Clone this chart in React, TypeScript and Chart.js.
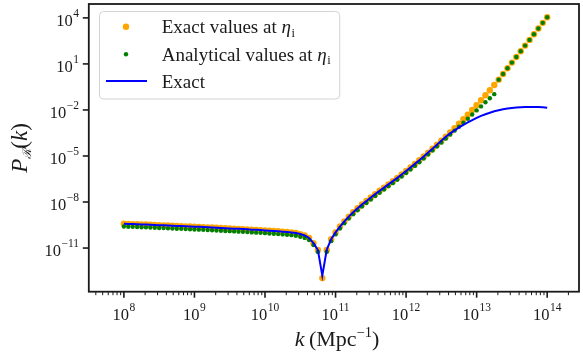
import React, { useEffect, useRef } from 'react';
import { Chart, registerables } from 'chart.js';
Chart.register(...registerables);

// log10(k / Mpc^-1) sample positions
const logK = [
  8, 8.0625, 8.125, 8.1875, 8.25, 8.3125, 8.375, 8.4375, 8.5, 8.5625, 8.625, 8.6875, 8.75, 8.8125, 8.875, 8.9375,
  9, 9.0625, 9.125, 9.1875, 9.25, 9.3125, 9.375, 9.4375, 9.5, 9.5625, 9.625, 9.6875, 9.75, 9.8125, 9.875, 9.9375,
  10, 10.0625, 10.125, 10.1875, 10.25, 10.3125, 10.375, 10.4375, 10.5, 10.5625, 10.625, 10.6875, 10.75, 10.8125, 10.875, 10.9375,
  11, 11.0625, 11.125, 11.1875, 11.25, 11.3125, 11.375, 11.4375, 11.5, 11.5625, 11.625, 11.6875, 11.75, 11.8125, 11.875, 11.9375,
  12, 12.0625, 12.125, 12.1875, 12.25, 12.3125, 12.375, 12.4375, 12.5, 12.5625, 12.625, 12.6875, 12.75, 12.8125, 12.875, 12.9375,
  13, 13.0625, 13.125, 13.1875, 13.25, 13.3125, 13.375, 13.4375, 13.5, 13.5625, 13.625, 13.6875, 13.75, 13.8125, 13.875, 13.9375,
  14,
];

// log10 P_R(k): exact values at eta_i (orange)
const exactAtEta = [
  -9.42, -9.43, -9.44, -9.45, -9.46, -9.47, -9.48, -9.495, -9.51, -9.52, -9.535, -9.55, -9.56, -9.57, -9.585, -9.6,
  -9.61, -9.62, -9.635, -9.65, -9.66, -9.675, -9.69, -9.705, -9.72, -9.735, -9.75, -9.765, -9.78, -9.8, -9.815, -9.83,
  -9.85, -9.87, -9.89, -9.91, -9.93, -9.955, -9.98, -10.02, -10.09, -10.18, -10.34, -10.68, -11.13, -12.96, -11.12, -10.42,
  -9.98, -9.6, -9.26, -8.95, -8.67, -8.41, -8.165, -7.93, -7.705, -7.485, -7.27, -7.06, -6.85, -6.64, -6.425, -6.205,
  -5.98, -5.75, -5.515, -5.275, -5.03, -4.78, -4.525, -4.265, -4.0, -3.74, -3.47, -3.19, -2.9, -2.605, -2.305, -2.0,
  -1.69, -1.37, -1.045, -0.715, -0.375, -0.025, 0.345, 0.715, 1.085, 1.455, 1.825, 2.195, 2.565, 2.935, 3.305, 3.675,
  4.045,
];

// log10 P_R(k): analytical values at eta_i (green); null = below the axis
const analyticalAtEta = [
  -9.6, -9.61, -9.62, -9.63, -9.64, -9.65, -9.66, -9.675, -9.69, -9.7, -9.715, -9.73, -9.74, -9.75, -9.765, -9.78,
  -9.79, -9.8, -9.815, -9.83, -9.84, -9.855, -9.87, -9.885, -9.9, -9.915, -9.93, -9.945, -9.96, -9.98, -9.995, -10.01,
  -10.03, -10.05, -10.07, -10.09, -10.11, -10.135, -10.16, -10.2, -10.26, -10.34, -10.48, -10.8, -11.25, null, -11.25, -10.55,
  -10.11, -9.73, -9.39, -9.08, -8.8, -8.54, -8.295, -8.06, -7.835, -7.615, -7.4, -7.19, -6.98, -6.77, -6.555, -6.335,
  -6.11, -5.88, -5.645, -5.405, -5.16, -4.91, -4.65, -4.39, -4.13, -3.87, -3.61, -3.35, -3.09, -2.83, -2.57, -2.3,
  -2.03, -1.77, -1.5, -1.24, -0.97, -0.025, 0.345, 0.715, 1.085, 1.455, 1.825, 2.195, 2.565, 2.935, 3.305, 3.675,
  4.045,
];

// log10 P_R(k): exact curve (blue line)
const exactCurve = [
  -9.42, -9.43, -9.44, -9.45, -9.46, -9.47, -9.48, -9.495, -9.51, -9.52, -9.535, -9.55, -9.56, -9.57, -9.585, -9.6,
  -9.61, -9.62, -9.635, -9.65, -9.66, -9.675, -9.69, -9.705, -9.72, -9.735, -9.75, -9.765, -9.78, -9.8, -9.815, -9.83,
  -9.85, -9.87, -9.89, -9.91, -9.93, -9.955, -9.98, -10.02, -10.09, -10.18, -10.34, -10.68, -11.13, -12.8, -11.12, -10.42,
  -9.98, -9.6, -9.26, -8.95, -8.67, -8.41, -8.165, -7.93, -7.705, -7.485, -7.27, -7.06, -6.85, -6.64, -6.425, -6.205,
  -5.98, -5.75, -5.515, -5.275, -5.03, -4.78, -4.525, -4.265, -4.0, -3.75, -3.53, -3.33, -3.14, -2.97, -2.81, -2.66,
  -2.52, -2.39, -2.28, -2.18, -2.09, -2.02, -1.96, -1.91, -1.87, -1.84, -1.82, -1.81, -1.8, -1.8, -1.81, -1.83,
  -1.86,
];

const xTickExps = [8, 9, 10, 11, 12, 13, 14];
const yTickExps = [4, 1, -2, -5, -8, -11];
const legendLabels = ['Exact values at ', 'Analytical values at ', 'Exact'];

const X_MIN_EXP = 7.5025;
const X_MAX_EXP = 14.451;
const Y_MIN_EXP = -13.845;
const Y_MAX_EXP = 4.905;

const SERIF = '"Liberation Serif", "DejaVu Serif", serif';
const INK = '#1a1a1a';

const fmtExp = (n: number) => (n < 0 ? '\u2212' + Math.abs(n) : String(n));

function drawPow(ctx: CanvasRenderingContext2D, exp: string, x: number, y: number, align: 'center' | 'right') {
  const baseFont = `16.5px ${SERIF}`;
  const expFont = `11.5px ${SERIF}`;
  ctx.font = baseFont;
  const wb = ctx.measureText('10').width;
  ctx.font = expFont;
  const we = ctx.measureText(exp).width;
  const total = wb + we + 0.5;
  const x0 = align === 'center' ? x - total / 2 : x - total;
  ctx.textAlign = 'left';
  ctx.textBaseline = 'alphabetic';
  ctx.font = baseFont;
  ctx.fillText('10', x0, y);
  ctx.font = expFont;
  ctx.fillText(exp, x0 + wb + 0.5, y - 9);
}

const decor = {
  id: 'decor',
  afterDraw(chart: any) {
    const { ctx, chartArea } = chart;
    const { left, right, top, bottom } = chartArea;
    const xs = chart.scales.x;
    const ys = chart.scales.y;
    ctx.save();
    ctx.fillStyle = INK;
    ctx.strokeStyle = INK;

    // x ticks (major + minor)
    for (let n = 7; n <= 14; n++) {
      for (let m = 1; m <= 9; m++) {
        const v = m * Math.pow(10, n);
        const lv = Math.log10(v);
        if (lv < X_MIN_EXP || lv > X_MAX_EXP) continue;
        const px = xs.getPixelForValue(v);
        const major = m === 1;
        ctx.lineWidth = major ? 1.6 : 1;
        ctx.beginPath();
        ctx.moveTo(px, bottom);
        ctx.lineTo(px, bottom + (major ? 6 : 3.5));
        ctx.stroke();
      }
    }
    xTickExps.forEach((e) => {
      const px = xs.getPixelForValue(Math.pow(10, e));
      drawPow(ctx, fmtExp(e), px, 320, 'center');
    });

    // y ticks
    yTickExps.forEach((e) => {
      const py = ys.getPixelForValue(Math.pow(10, e));
      ctx.lineWidth = 1.6;
      ctx.beginPath();
      ctx.moveTo(left, py);
      ctx.lineTo(left - 6, py);
      ctx.stroke();
      drawPow(ctx, fmtExp(e), 79, py + 8, 'right');
    });

    // spines
    ctx.lineWidth = 1.8;
    ctx.strokeRect(left, top, right - left, bottom - top);

    // x title: k (Mpc^-1)
    {
      const big = `22px ${SERIF}`;
      const bigIt = `italic 22px ${SERIF}`;
      const sup = `14.5px ${SERIF}`;
      const parts: [string, string, number][] = [
        ['k', bigIt, 0],
        ['\u2009(Mpc', big, 0],
        ['\u22121', sup, 9],
        [')', big, 0],
      ];
      let w = 0;
      parts.forEach(([t, f]) => { ctx.font = f; w += ctx.measureText(t).width; });
      let cx = 337 - w / 2;
      ctx.textAlign = 'left';
      ctx.textBaseline = 'alphabetic';
      parts.forEach(([t, f, r]) => {
        ctx.font = f;
        ctx.fillText(t, cx, 346 - r);
        cx += ctx.measureText(t).width;
      });
    }

    // y title: P_R(k), rotated
    {
      ctx.save();
      ctx.translate(20, 148);
      ctx.rotate(-Math.PI / 2);
      const parts: [string, string, number][] = [
        ['P', `italic 23px ${SERIF}`, 0],
        ['\u211B', `italic 12px ${SERIF}`, -4],
        ['(', `23px ${SERIF}`, 0],
        ['k', `italic 23px ${SERIF}`, 0],
        [')', `23px ${SERIF}`, 0],
      ];
      let w = 0;
      parts.forEach(([t, f]) => { ctx.font = f; w += ctx.measureText(t).width; });
      let cx = -w / 2;
      ctx.textAlign = 'left';
      ctx.textBaseline = 'alphabetic';
      parts.forEach(([t, f, r]) => {
        ctx.font = f;
        ctx.fillText(t, cx, 7 - r);
        cx += ctx.measureText(t).width;
      });
      ctx.restore();
    }

    // legend
    {
      const tx = 161.7;
      const tf = `19px ${SERIF}`;
      const tfIt = `italic 19px ${SERIF}`;
      const sf = `12.5px ${SERIF}`;
      let maxEnd = 0;
      legendLabels.forEach((lab, i) => {
        ctx.font = tf;
        let w = ctx.measureText(lab).width;
        if (i < 2) {
          ctx.font = tfIt; w += ctx.measureText('\u03B7').width;
          ctx.font = sf; w += ctx.measureText('i').width + 0.5;
        }
        maxEnd = Math.max(maxEnd, tx + w);
      });
      const lx = 99.5, ly = 11.5, lw = maxEnd + 9 - lx, lh = 87.5;
      ctx.beginPath();
      ctx.roundRect(lx, ly, lw, lh, 4);
      ctx.fillStyle = 'rgba(255,255,255,0.8)';
      ctx.fill();
      ctx.strokeStyle = '#d3d3d3';
      ctx.lineWidth = 1;
      ctx.stroke();

      // markers
      ctx.fillStyle = '#ffa500';
      ctx.beginPath(); ctx.arc(126, 26.7, 3.2, 0, Math.PI * 2); ctx.fill();
      ctx.fillStyle = '#008000';
      ctx.beginPath(); ctx.arc(126, 54.3, 2.2, 0, Math.PI * 2); ctx.fill();
      ctx.strokeStyle = '#0000ff';
      ctx.lineWidth = 2;
      ctx.beginPath(); ctx.moveTo(106, 81); ctx.lineTo(147, 81); ctx.stroke();

      const baselines = [33.3, 60.5, 88];
      ctx.fillStyle = INK;
      ctx.textAlign = 'left';
      ctx.textBaseline = 'alphabetic';
      legendLabels.forEach((lab, i) => {
        ctx.font = tf;
        ctx.fillText(lab, tx, baselines[i]);
        if (i < 2) {
          const w = ctx.measureText(lab).width;
          ctx.font = tfIt;
          ctx.fillText('\u03B7', tx + w, baselines[i]);
          const we = ctx.measureText('\u03B7').width;
          ctx.font = sf;
          ctx.fillText('i', tx + w + we + 0.5, baselines[i] + 3.5);
        }
      });
    }
    ctx.restore();
  },
};

export default function App() {
  const ref = useRef<HTMLCanvasElement | null>(null);
  useEffect(() => {
    const canvas = ref.current;
    if (!canvas) return;
    const toPts = (arr: (number | null)[]) =>
      logK.map((k, i) => ({ x: Math.pow(10, k), y: arr[i] == null ? null : Math.pow(10, arr[i] as number) }));
    const chart = new Chart(canvas, {
      type: 'scatter',
      data: {
        datasets: [
          {
            type: 'line',
            label: 'Exact',
            data: toPts(exactCurve) as any,
            borderColor: '#0000ff',
            backgroundColor: '#0000ff',
            borderWidth: 2,
            pointRadius: 0,
            showLine: true,
            fill: false,
            tension: 0,
            order: 0,
          } as any,
          {
            type: 'scatter',
            label: 'Analytical values at ηi',
            data: toPts(analyticalAtEta) as any,
            backgroundColor: '#008000',
            borderWidth: 0,
            pointRadius: 2.2,
            order: 1,
          },
          {
            type: 'scatter',
            label: 'Exact values at ηi',
            data: toPts(exactAtEta) as any,
            backgroundColor: '#ffa500',
            borderWidth: 0,
            pointRadius: 3.2,
            order: 2,
          },
        ],
      },
      options: {
        responsive: false,
        animation: false,
        devicePixelRatio: 1,
        layout: { padding: { left: 88.8, top: 1.3, right: 1.5, bottom: 68.3 } },
        scales: {
          x: { type: 'logarithmic', min: Math.pow(10, X_MIN_EXP), max: Math.pow(10, X_MAX_EXP), display: false },
          y: { type: 'logarithmic', min: Math.pow(10, Y_MIN_EXP), max: Math.pow(10, Y_MAX_EXP), display: false },
        },
        plugins: { legend: { display: false }, tooltip: { enabled: false } },
      },
      plugins: [decor],
    });
    return () => chart.destroy();
  }, []);
  return (
    <div style={{ position: 'fixed', left: 0, top: 0, width: 583, height: 360, background: '#fff' }}>
      <canvas ref={ref} width={583} height={360} style={{ width: 583, height: 360, display: 'block' }} />
    </div>
  );
}
